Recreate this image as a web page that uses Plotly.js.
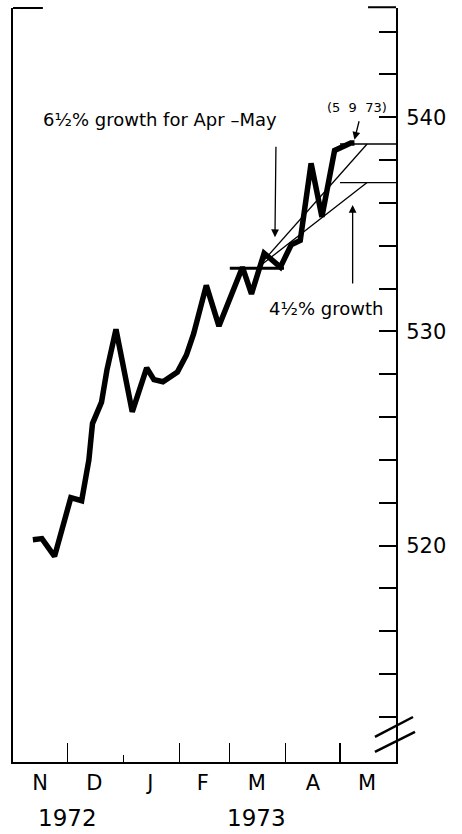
<!DOCTYPE html>
<html>
<head>
<meta charset="utf-8">
<script src="https://cdn.plot.ly/plotly-3.0.1.min.js"></script>
<style>html,body{margin:0;padding:0;background:#fff;}#chart{width:462px;height:834px;}</style>
</head>
<body>
<div id="chart"></div>
<script>
// Weekly money stock (billions of dollars), Nov 1972 - May 1973
const dates = ['1972-11-12','1972-11-17','1972-11-24','1972-12-03','1972-12-09','1972-12-13','1972-12-15','1972-12-20','1972-12-23','1972-12-28',
  '1973-01-06','1973-01-14','1973-01-18','1973-01-23','1973-01-31','1973-02-05','1973-02-09','1973-02-16','1973-02-23',
  '1973-03-08','1973-03-13','1973-03-20','1973-03-29','1973-04-04','1973-04-09','1973-04-15','1973-04-21','1973-04-28','1973-05-07','1973-05-09'];
const values = [520.28,520.33,519.5,522.24,522.1,524.0,525.7,526.7,528.2,530.1,
  526.25,528.3,527.75,527.65,528.1,528.9,529.9,532.15,530.25,
  533.0,531.75,533.65,533.0,534.05,534.25,537.85,535.35,538.45,538.8,538.8];

// Base-period and growth-path reference lines
const marchAvgDates = ['1973-03-01','1973-03-31'];
const marchAvg = [532.95, 532.95];
const growthDates = ['1973-03-16','1973-05-16'];
const growth65 = [532.95, 538.75];
const growth45 = [532.95, 536.95];
const mayDates = ['1973-05-01','1973-06-01'];
const mayLevel65 = [538.75, 538.75];
const mayLevel45 = [536.95, 536.95];

// Axis ticks and labels
const xRange = ['1972-11-01','1973-06-01'];
const monthTickDates = ['1972-12-01','1973-02-01','1973-03-01','1973-04-01','1973-05-01'];
const shortTickDates = ['1973-01-01'];
const monthLabelDates = ['1972-11-16','1972-12-16','1973-01-16','1973-02-14','1973-03-16','1973-04-16','1973-05-16'];
const monthLabels = ['N','D','J','F','M','A','M'];
const yearLabelDates = ['1972-12-01','1973-03-16'];
const yearLabels = ['1972','1973'];
const yRange = [509.9, 545.1];
const yTickVals = [512,514,516,518,520,522,524,526,528,530,532,534,536,538,540,542,544];
const yTickText = yTickVals.map(v => (v % 10 === 0 ? String(v) : ''));

const FONT = 'DejaVu Sans, Liberation Sans, sans-serif';
const thin = {color:'black', width:1.3};

const traces = [
  {x: marchAvgDates, y: marchAvg, mode:'lines', line:{color:'black', width:3}, hoverinfo:'skip', showlegend:false},
  {x: growthDates, y: growth65, mode:'lines', line:thin, hoverinfo:'skip', showlegend:false},
  {x: growthDates, y: growth45, mode:'lines', line:thin, hoverinfo:'skip', showlegend:false},
  {x: mayDates, y: mayLevel65, mode:'lines', line:thin, hoverinfo:'skip', showlegend:false},
  {x: mayDates, y: mayLevel45, mode:'lines', line:thin, hoverinfo:'skip', showlegend:false},
  {x: dates, y: values, mode:'lines', line:{color:'black', width:5.5}, showlegend:false},
  {x: monthLabelDates, y: monthLabelDates.map(() => null), xaxis:'x2', yaxis:'y2', mode:'lines', hoverinfo:'skip', showlegend:false},
  {x: shortTickDates, y: [null], xaxis:'x3', yaxis:'y', mode:'lines', hoverinfo:'skip', showlegend:false}
];

const annotations = [
  {xref:'paper', yref:'paper', x:0.3838, y:0.8515, text:'6½% growth for Apr –May', showarrow:false,
   font:{family:FONT, size:18, color:'black'}, xanchor:'center', yanchor:'middle'},
  {xref:'paper', yref:'paper', x:0.8172, y:0.6021, text:'4½% growth', showarrow:false,
   font:{family:FONT, size:18, color:'black'}, xanchor:'center', yanchor:'middle'},
  {xref:'paper', yref:'paper', x:0.898, y:0.8674, text:'(5  9  73)', showarrow:false,
   font:{family:FONT, size:13, color:'black'}, xanchor:'center', yanchor:'middle'},
  {x:'1973-03-26', y:534.4, xref:'x', yref:'y', text:'', showarrow:true, arrowhead:2, arrowsize:1.2, arrowwidth:1.3, arrowcolor:'black', ax:1, ay:-92},
  {x:'1973-05-09', y:538.95, xref:'x', yref:'y', text:'', showarrow:true, arrowhead:2, arrowsize:1.2, arrowwidth:1.3, arrowcolor:'black', ax:5, ay:-20},
  {x:'1973-05-08', y:535.9, xref:'x', yref:'y', text:'', showarrow:true, arrowhead:2, arrowsize:1.2, arrowwidth:1.3, arrowcolor:'black', ax:0, ay:80}
];
yearLabels.forEach((t, i) => annotations.push({
  xref:'x', yref:'paper', x: yearLabelDates[i], y:-0.0743, text:t, showarrow:false,
  font:{family:FONT, size:23, color:'black'}, xanchor:'center', yanchor:'middle'
}));

const shapes = [
  {type:'line', xref:'paper', yref:'paper', x0:0, x1:0.078, y0:1, y1:1, line:{color:'black', width:2}},
  {type:'line', xref:'paper', yref:'paper', x0:0.927, x1:1, y0:1.001, y1:1.001, line:{color:'black', width:2}},
  {type:'line', xref:'paper', yref:'paper', x0:0.945, x1:1.0444, y0:0.0332, y1:0.0597, line:{color:'black', width:2.5}},
  {type:'line', xref:'paper', yref:'paper', x0:0.945, x1:1.0496, y0:0.0133, y1:0.0398, line:{color:'black', width:2.5}}
];

const layout = {
  width:462, height:834,
  margin:{l:13, r:66, t:8, b:72, autoexpand:false},
  paper_bgcolor:'white', plot_bgcolor:'white',
  font:{family:FONT, color:'black'},
  showlegend:false,
  xaxis:{type:'date', range:xRange, showline:true, linewidth:2, linecolor:'black',
    ticks:'inside', ticklen:19, tickwidth:1.2, tickcolor:'black', tickmode:'array', tickvals:monthTickDates,
    showticklabels:false, showgrid:false, zeroline:false, fixedrange:true},
  xaxis2:{type:'date', range:xRange, overlaying:'x', anchor:'y', side:'bottom', showline:false, ticks:'',
    tickmode:'array', tickvals:monthLabelDates, ticktext:monthLabels, ticklabelstandoff:6,
    tickfont:{family:FONT, size:21, color:'black'}, showgrid:false, zeroline:false, fixedrange:true},
  xaxis3:{type:'date', range:xRange, overlaying:'x', anchor:'y', side:'bottom', showline:false,
    ticks:'inside', ticklen:7, tickwidth:1.2, tickcolor:'black', tickmode:'array', tickvals:shortTickDates,
    showticklabels:false, showgrid:false, zeroline:false, fixedrange:true},
  yaxis:{range:yRange, side:'right', showline:true, linewidth:2, linecolor:'black',
    ticks:'inside', ticklen:17, tickwidth:2, tickcolor:'black', tickmode:'array', tickvals:yTickVals, ticktext:yTickText,
    ticklabelstandoff:4, tickfont:{family:FONT, size:21, color:'black'}, showgrid:false, zeroline:false, fixedrange:true},
  yaxis2:{range:yRange, overlaying:'y', side:'left', anchor:'x', showline:true, linewidth:2, linecolor:'black',
    ticks:'', showticklabels:false, showgrid:false, zeroline:false, fixedrange:true},
  annotations: annotations,
  shapes: shapes
};

Plotly.newPlot('chart', traces, layout, {displayModeBar:false, staticPlot:true});
</script>
</body>
</html>
